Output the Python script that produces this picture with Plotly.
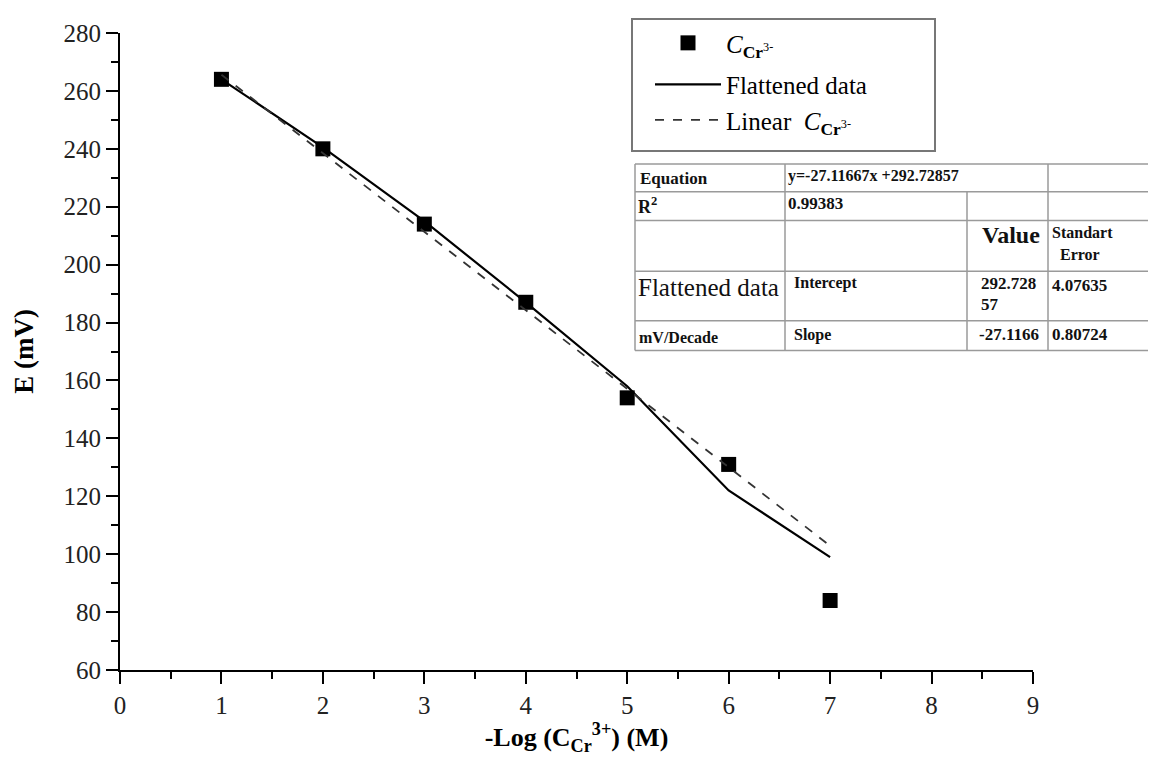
import plotly.graph_objects as go

# ---------------- data ----------------
x_vals = [1, 2, 3, 4, 5, 6, 7]
measured_E = [264, 240, 214, 187, 154, 131, 84]
flattened_E = [264, 240.5, 215, 187, 158, 122, 99]
linear_x = [1, 7]
linear_E = [265.6, 102.9]

x_ticks = [0, 1, 2, 3, 4, 5, 6, 7, 8, 9]
y_ticks = [60, 80, 100, 120, 140, 160, 180, 200, 220, 240, 260, 280]

series_names = [
    "<i>C</i><sub><b>Cr</b><sup>3-</sup></sub>",
    "Flattened data",
    "Linear  <i>C</i><sub><b>Cr</b><sup>3-</sup></sub>",
]

eq_text = "y=-27.11667x +292.72857"
r2_text = "0.99383"
intercept_val = ["292.728", "57"]
intercept_err = "4.07635"
slope_val = "-27.1166"
slope_err = "0.80724"

FONT = "Liberation Serif, Times New Roman, serif"

# ---------------- layout geometry (page pixels; page has 8px body margin) ----------------
OFF = 8
W, H = 1156 - OFF, 774 - OFF
L, R, T, B = 120, 1033, 28, 670   # plot area in page pixels


def px(x):
    return (x - L) / (R - L)


def py(y):
    return (B - y) / (B - T)


fig = go.Figure()

fig.add_trace(go.Scatter(
    x=x_vals, y=measured_E, mode="markers", name=series_names[0],
    legendgroup="a",
    marker=dict(symbol="square", size=15, color="black"),
))
fig.add_trace(go.Scatter(
    x=x_vals, y=flattened_E, mode="lines", name=series_names[1],
    legendgroup="b",
    line=dict(color="black", width=2.2),
))
fig.add_trace(go.Scatter(
    x=linear_x, y=linear_E, mode="lines", name=series_names[2],
    legendgroup="b",
    line=dict(color="#333333", width=1.8, dash="dash"),
))

axis_common = dict(
    showgrid=False, zeroline=False, showline=True, linecolor="black",
    linewidth=2, ticks="outside", ticklen=12, tickwidth=2, tickcolor="black",
    tickfont=dict(family=FONT, size=25, color="#222"),
)

fig.update_xaxes(
    range=[0, 9], tickvals=x_ticks, **axis_common,
    minor=dict(ticks="outside", ticklen=7, tickwidth=2, tickcolor="black", dtick=0.5),
    title=dict(text="<b>-Log (C<sub>Cr</sub><sup>3+</sup>) (M)</b>",
               font=dict(family=FONT, size=26, color="black"), standoff=10),
)
fig.update_yaxes(
    range=[60, 280], tickvals=y_ticks, **axis_common,
    minor=dict(ticks="outside", ticklen=7, tickwidth=2, tickcolor="black", dtick=10),
    title=dict(text="<b>E (mV)</b>", font=dict(family=FONT, size=27, color="black"),
               standoff=22),
)

fig.update_layout(
    width=W, height=H,
    margin=dict(l=L - OFF, r=W - (R - OFF), t=T - OFF, b=H - (B - OFF)),
    paper_bgcolor="white", plot_bgcolor="white",
    font=dict(family=FONT, color="black"),
    legend=dict(
        x=px(650), y=py(15), xanchor="left", yanchor="top",
        borderwidth=0, bgcolor="rgba(0,0,0,0)",
        font=dict(family=FONT, size=25, color="black"),
        itemwidth=66, tracegroupgap=6,
    ),
)

# legend frame
fig.add_shape(type="rect", xref="paper", yref="paper",
              x0=px(632), x1=px(935), y0=py(147), y1=py(14),
              line=dict(color="#777", width=2), fillcolor="rgba(0,0,0,0)", layer="below")

# ---------------- table ----------------
grey = "#9a9a9a"
tl, tr = 635, 1160
hlines = [160, 188, 217, 268, 318, 348]
for yy in hlines:
    fig.add_shape(type="line", xref="paper", yref="paper",
                  x0=px(tl), x1=px(tr), y0=py(yy), y1=py(yy),
                  line=dict(color=grey, width=1.5))
for xx, y0, y1 in [(635, 160, 348), (785, 160, 348), (967, 188, 348), (1048, 160, 348)]:
    fig.add_shape(type="line", xref="paper", yref="paper",
                  x0=px(xx), x1=px(xx), y0=py(y0), y1=py(y1),
                  line=dict(color=grey, width=1.5))


def txt(x, y, s, size=16, bold=True):
    fig.add_annotation(
        xref="paper", yref="paper", x=px(x), y=py(y), xanchor="left", yanchor="middle",
        text=f"<b>{s}</b>" if bold else s, showarrow=False,
        font=dict(family=FONT, size=size, color="#111"),
    )


txt(638, 175, "Equation", size=17)
txt(786, 172, eq_text)
txt(636, 202, "R<sup>2</sup>", size=18)
txt(786, 200, r2_text, size=17)
txt(980, 232, "Value", size=24)
txt(1050, 229, "Standart", size=16)
txt(1054, 251, " Error", size=16)
txt(636, 284, "Flattened data", size=25, bold=False)
txt(792, 280, "Intercept", size=16)
txt(979, 280, intercept_val[0], size=17)
txt(979, 302, intercept_val[1], size=17)
txt(1050, 282, intercept_err, size=17)
txt(637, 335, "mV/Decade", size=16)
txt(792, 332, "Slope", size=16)
txt(977, 332, slope_val, size=17)
txt(1050, 332, slope_err, size=17)

fig.write_html("out.html")
